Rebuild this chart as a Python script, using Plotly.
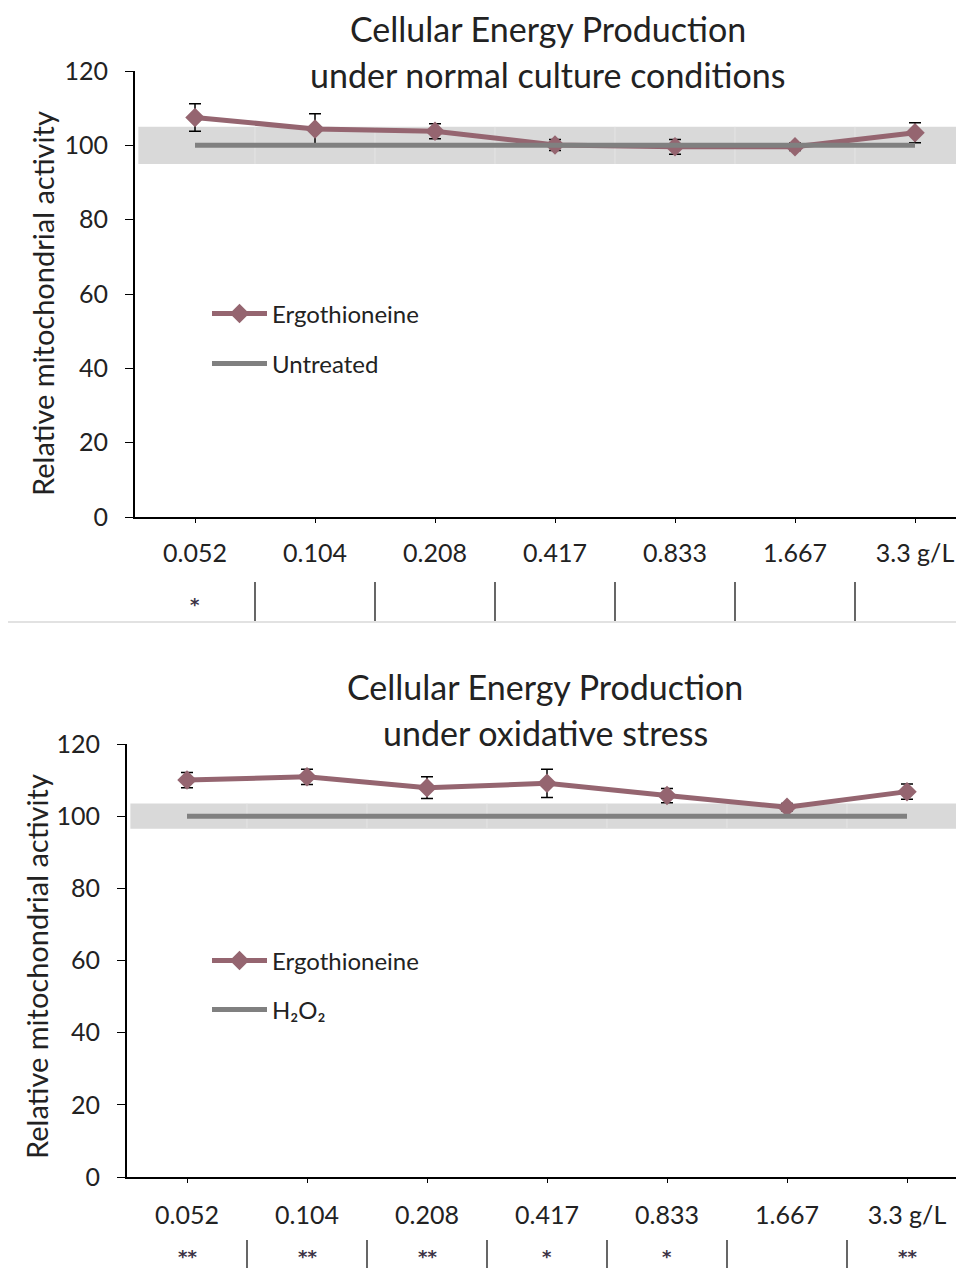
import plotly.graph_objects as go

# ---------------- data ----------------
categories = ["0.052", "0.104", "0.208", "0.417", "0.833", "1.667", "3.3 g/L"]

normal_ergo = [107.5, 104.4, 103.8, 100.1, 99.6, 99.6, 103.4]
normal_ergo_err = [3.7, 4.1, 2.0, 1.5, 2.0, 1.0, 2.7]
normal_untreated = [100, 100, 100, 100, 100, 100, 100]
normal_sig = ["*", "", "", "", "", "", ""]
normal_band = [95, 105]

stress_ergo = [110.0, 110.9, 107.9, 109.1, 105.7, 102.5, 106.8]
stress_ergo_err = [2.1, 2.1, 3.0, 3.9, 2.0, 1.0, 2.1]
stress_h2o2 = [100, 100, 100, 100, 100, 100, 100]
stress_sig = ["**", "**", "**", "*", "*", "", "**"]
stress_band = [96.5, 103.5]

y_ticks = [0, 20, 40, 60, 80, 100, 120]

# ---------------- styling ----------------
W, H = 964, 1268
OFF = 8  # page body margin
FONT = "Lato"
MAUVE = "#956570"
GRAY = "#808080"
BAND = "#d9d9d9"
TXT = "#222222"


def py(p):
    return 1 - (p - OFF) / H


def px(p):
    return (p - OFF) / W


xi = list(range(len(categories)))

fig = go.Figure()

# top panel traces
fig.add_trace(go.Scatter(
    x=xi, y=normal_ergo, name="Ergothioneine", mode="lines+markers",
    line=dict(color=MAUVE, width=5),
    marker=dict(symbol="diamond", size=15, color=MAUVE),
    error_y=dict(type="data", array=normal_ergo_err, color="black", thickness=1.5, width=6),
    xaxis="x", yaxis="y", legend="legend", showlegend=True))
fig.add_trace(go.Scatter(
    x=xi, y=normal_untreated, name="Untreated", mode="lines",
    line=dict(color=GRAY, width=5),
    xaxis="x", yaxis="y", legend="legend2", showlegend=True))

# bottom panel traces
fig.add_trace(go.Scatter(
    x=xi, y=stress_ergo, name="Ergothioneine", mode="lines+markers",
    line=dict(color=MAUVE, width=5),
    marker=dict(symbol="diamond", size=15, color=MAUVE),
    error_y=dict(type="data", array=stress_ergo_err, color="black", thickness=1.5, width=6),
    xaxis="x2", yaxis="y2", legend="legend3", showlegend=True))
fig.add_trace(go.Scatter(
    x=xi, y=stress_h2o2, name="H₂O₂", mode="lines",
    line=dict(color=GRAY, width=5),
    xaxis="x2", yaxis="y2", legend="legend4", showlegend=True))

axis_common = dict(
    showline=True, linecolor="black", linewidth=2, showgrid=False, zeroline=False,
    ticks="outside", tickcolor="black", automargin=False,
    tickfont=dict(family=FONT, size=25, color=TXT),
)

top_y0, top_y1 = 517, 71
bot_y0, bot_y1 = 1177, 744
top_left, bot_left = 135, 127

fig.update_layout(
    width=W, height=H, margin=dict(l=0, r=0, t=0, b=0, autoexpand=False),
    paper_bgcolor="white", plot_bgcolor="white", showlegend=True,
    font=dict(family=FONT, color=TXT),
    xaxis=dict(axis_common, domain=[px(top_left), 1], range=[-0.5, (W + OFF - top_left) / 120 - 0.5],
               tickvals=xi, ticktext=categories, ticklen=4, ticklabelstandoff=9,
               anchor="y"),
    yaxis=dict(axis_common, domain=[py(top_y0), py(top_y1)], range=[0, 120],
               tickvals=y_ticks, ticklen=8, ticklabelstandoff=12, anchor="x"),
    xaxis2=dict(axis_common, domain=[px(bot_left), 1], range=[-0.5, (W + OFF - bot_left) / 120 - 0.5],
                tickvals=xi, ticktext=categories, ticklen=4, ticklabelstandoff=11,
                anchor="y2"),
    yaxis2=dict(axis_common, domain=[py(bot_y0), py(bot_y1)], range=[0, 120],
                tickvals=y_ticks, ticklen=8, ticklabelstandoff=12, anchor="x2"),
)

leg_common = dict(xanchor="left", yanchor="middle", bgcolor="rgba(0,0,0,0)", visible=True,
                  font=dict(family=FONT, size=24, color=TXT), itemwidth=55)
fig.update_layout(
    legend=dict(leg_common, x=px(207), y=py(314)),
    legend2=dict(leg_common, x=px(207), y=py(364)),
    legend3=dict(leg_common, x=px(207), y=py(961)),
    legend4=dict(leg_common, x=px(207), y=py(1010)),
)

shapes = []
annotations = []

# gray reference bands
for xr, yr, band in (("x", "y", normal_band), ("x2", "y2", stress_band)):
    shapes.append(dict(type="rect", xref=xr + " domain", yref=yr, x0=0.004, x1=1,
                       y0=band[0], y1=band[1], fillcolor=BAND, line=dict(width=0),
                       layer="below"))
    for k in range(len(categories) - 1):
        shapes.append(dict(type="line", xref=xr, yref=yr, x0=k + 0.5, x1=k + 0.5,
                           y0=band[0], y1=band[1], line=dict(color="#e4e4e4", width=1),
                           layer="below"))

# significance rows
for xr, sig, ya, yb, ytxt in (("x", normal_sig, 582, 621, 604), ("x2", stress_sig, 1240, 1276, 1256)):
    for k in range(len(categories) - 1):
        shapes.append(dict(type="line", xref=xr, yref="paper", x0=k + 0.5, x1=k + 0.5,
                           y0=py(ya), y1=py(yb), line=dict(color="black", width=1.2)))
    for k, s in enumerate(sig):
        if s:
            annotations.append(dict(xref=xr, yref="paper", x=k, y=py(ytxt), text="<b>" + s + "</b>",
                                    showarrow=False, xanchor="center", yanchor="middle",
                                    font=dict(family="DejaVu Sans", size=18, color="#3b3345")))

# panel separator
shapes.append(dict(type="line", xref="paper", yref="paper", x0=0, x1=1,
                   y0=py(622), y1=py(622), line=dict(color="#e2e2e2", width=2)))

# titles
for text, xc, yc in (("Cellular Energy Production", 548, 28),
                     ("under normal culture conditions", 548, 74),
                     ("Cellular Energy Production", 545, 686),
                     ("under oxidative stress", 545, 732)):
    annotations.append(dict(xref="paper", yref="paper", x=px(xc), y=py(yc), text=text,
                            showarrow=False, xanchor="center", yanchor="middle",
                            font=dict(family=FONT, size=34, color=TXT)))

# y-axis titles
for xc, yc in ((42, 304), (36, 967)):
    annotations.append(dict(xref="paper", yref="paper", x=px(xc), y=py(yc),
                            text="Relative mitochondrial activity", textangle=-90,
                            showarrow=False, xanchor="center", yanchor="middle",
                            font=dict(family=FONT, size=29, color=TXT)))

fig.update_layout(shapes=shapes, annotations=annotations)

fig.write_html("out.html")
